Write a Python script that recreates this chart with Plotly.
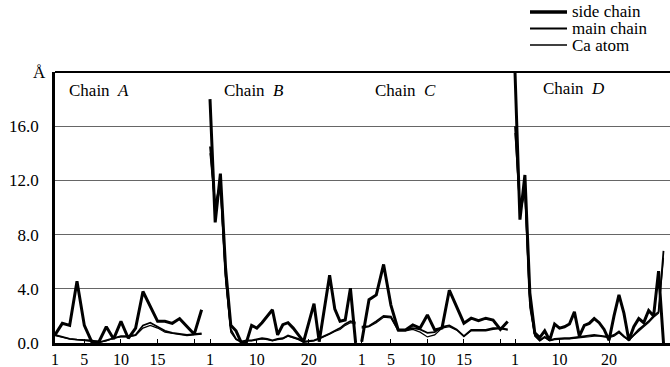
import plotly.graph_objects as go

# ---------------- data (Å deviations per residue) ----------------
chain_names = ["A", "B", "C", "D"]

side_A = [0.6, 1.45, 1.3, 4.55, 1.3, 0.1, 0.1, 1.2, 0.3, 1.6, 0.35, 1.1, 3.8, 2.7, 1.6, 1.6, 1.45, 1.8, 1.2, 0.65, 2.45]
main_A = [0.6, 0.45, 0.3, 0.25, 0.25, 0.2, 0.05, 0.2, 0.4, 0.5, 0.5, 0.6, 1.3, 1.5, 1.2, 0.9, 0.75, 0.65, 0.6, 0.65, 0.7]
ca_A   = [0.55, 0.4, 0.3, 0.25, 0.2, 0.15, 0.05, 0.15, 0.35, 0.45, 0.45, 0.55, 1.1, 1.3, 1.1, 0.8, 0.7, 0.6, 0.55, 0.6, 0.65]

side_B = [18.0, 8.9, 12.5, 5.5, 1.3, 0.9, 0.05, 0.05, 1.3, 1.1, 1.5, 2.0, 2.45, 0.6, 1.35, 1.5, 1.1, 0.6, 0.1,
          1.5, 2.9, 0.1, 2.5, 5.0, 2.5, 1.6, 1.7, 4.05, 0.0]
main_B = [14.5, 10.2, 11.8, 5.0, 1.0, 0.3, 0.1, 0.2, 0.2, 0.25, 0.35, 0.3, 0.2, 0.3, 0.35, 0.55, 0.45, 0.3, 0.1,
          0.15, 0.2, 0.35, 0.5, 0.7, 0.9, 1.1, 1.4, 1.6, 1.5]
ca_B   = [14.0, 9.8, 11.4, 4.6, 0.8, 0.25, 0.05, 0.15, 0.15, 0.2, 0.3, 0.25, 0.15, 0.25, 0.3, 0.5, 0.4, 0.25, 0.05,
          0.1, 0.15, 0.3, 0.45, 0.65, 0.85, 1.0, 1.3, 1.5, 1.4]

side_C = [0.1, 3.2, 3.55, 5.8, 2.8, 0.96, 0.96, 1.33, 1.1, 2.07, 0.96, 1.1, 3.9, 2.7, 1.46, 1.83, 1.65, 1.83, 1.7, 1.0, 1.58]
main_C = [1.2, 1.25, 1.6, 2.0, 1.95, 0.96, 0.96, 1.1, 1.0, 0.75, 0.8, 1.2, 1.3, 1.0, 0.5, 0.96, 0.96, 0.96, 1.1, 1.1, 1.0]
ca_C   = [1.1, 1.2, 1.5, 1.9, 1.85, 0.9, 0.9, 1.0, 0.8, 0.45, 0.6, 1.1, 1.2, 0.95, 0.5, 0.9, 0.9, 0.9, 1.0, 1.05, 0.95]

side_D = [20.0, 9.1, 12.4, 3.7, 0.74, 0.4, 0.9, 0.2, 1.4, 1.1, 1.2, 1.4, 2.3, 0.5, 1.3, 1.45, 1.8, 1.5, 1.0, 0.2,
          2.0, 3.55, 2.2, 0.2, 1.2, 1.8, 1.5, 2.4, 2.0, 5.3, 0.0]
main_D = [16.0, 10.0, 11.5, 3.0, 0.6, 0.2, 0.45, 0.2, 0.3, 0.35, 0.35, 0.35, 0.4, 0.4, 0.45, 0.5, 0.6, 0.55, 0.5, 0.45,
          0.6, 0.85, 0.5, 0.2, 0.6, 1.0, 1.3, 1.6, 2.0, 2.3, 6.8]
ca_D   = [15.5, 9.6, 11.0, 2.6, 0.5, 0.15, 0.4, 0.15, 0.25, 0.3, 0.3, 0.3, 0.35, 0.35, 0.4, 0.45, 0.5, 0.5, 0.45, 0.4,
          0.5, 0.75, 0.45, 0.2, 0.55, 0.9, 1.2, 1.5, 1.9, 2.2, 6.3]

series_names = ["side chain", "main chain", "Ca atom"]

tickvals_A = [1, 5, 10, 15, 20]; ticktext_A = ["1", "5", "10", "15", ""]
tickvals_B = [1, 10, 20];        ticktext_B = ["1", "10", "20"]
tickvals_C = [1, 5, 10, 15, 20]; ticktext_C = ["1", "5", "10", "15", ""]
tickvals_D = [1, 10, 20];        ticktext_D = ["1", "10", "20"]

y_tickvals = [0, 4, 8, 12, 16]
y_ticktext = ["0.0", "4.0", "8.0", "12.0", "16.0"]

# ---------------- styling / layout ----------------
W, H = 670, 367
ML, MR, MT, MB = 55, 0, 72, 24
PW, PH = W - ML - MR, H - MT - MB
FONT = "Times New Roman, Liberation Serif, DejaVu Serif, serif"

def px_x(p):  # pixel -> paper x
    return (p - ML) / PW

def px_y(p):  # pixel -> paper y
    return (H - MB - p) / PH

widths = [3.0, 1.8, 1.2]
data = {
    "A": (side_A, main_A, ca_A),
    "B": (side_B, main_B, ca_B),
    "C": (side_C, main_C, ca_C),
    "D": (side_D, main_D, ca_D),
}
domains_px = {"A": (55, 206), "B": (206, 359), "C": (359, 512), "D": (512, 670)}
ranges = {"A": [1, 21.6], "B": [0.231, 29.65], "C": [0.63, 21.59], "D": [0.394, 32.31]}
ticks = {"A": (tickvals_A, ticktext_A), "B": (tickvals_B, ticktext_B),
         "C": (tickvals_C, ticktext_C), "D": (tickvals_D, ticktext_D)}

fig = go.Figure()
for i, ch in enumerate(chain_names):
    xa = "x" if i == 0 else f"x{i+1}"
    for s, vals in enumerate(data[ch]):
        fig.add_trace(go.Scatter(
            x=list(range(1, len(vals) + 1)), y=vals, mode="lines",
            name=series_names[s], showlegend=False, hoverinfo="skip",
            line=dict(color="black", width=widths[s]),
            xaxis=xa, yaxis="y"))

layout = dict(
    width=W, height=H,
    margin=dict(l=ML, r=MR, t=MT, b=MB, pad=0),
    paper_bgcolor="white", plot_bgcolor="white",
    font=dict(family=FONT, size=16, color="black"),
    showlegend=False,
    yaxis=dict(range=[0, 20], tickvals=y_tickvals, ticktext=y_ticktext,
               showgrid=True, gridcolor="#666666", gridwidth=1,
               zeroline=False, showline=True, linecolor="black", linewidth=2.5,
               ticks="", ticklabelstandoff=10, anchor="x",
               tickfont=dict(family=FONT, size=17, color="black")),
)
for i, ch in enumerate(chain_names):
    key = "xaxis" if i == 0 else f"xaxis{i+1}"
    d0, d1 = domains_px[ch]
    tv, tt = ticks[ch]
    layout[key] = dict(
        domain=[px_x(d0), min(1.0, px_x(d1))], range=ranges[ch],
        tickvals=tv, ticktext=tt, ticks="inside", ticklen=4, tickwidth=1,
        tickcolor="black", showgrid=False, zeroline=False,
        showline=True, linecolor="black", linewidth=2.5,
        anchor="y", ticklabelstandoff=0,
        tickfont=dict(family=FONT, size=16, color="black"))
fig.update_layout(**layout)

# top frame
fig.add_shape(type="line", xref="paper", yref="paper", x0=0, x1=1, y0=1, y1=1,
              line=dict(color="black", width=2))

# chain labels
label_px = {"A": (67, 90), "B": (222, 90), "C": (373, 90), "D": (541, 88)}
for ch in chain_names:
    lx, ly = label_px[ch]
    fig.add_annotation(x=px_x(lx), y=px_y(ly), xref="paper", yref="paper",
                       text=f"Chain\u00a0 <i>{ch}</i>", showarrow=False,
                       xanchor="left", yanchor="middle",
                       font=dict(family=FONT, size=17, color="black"))

# Å unit label
fig.add_annotation(x=px_x(39), y=px_y(72), xref="paper", yref="paper", text="Å",
                   showarrow=False, xanchor="center", yanchor="middle",
                   font=dict(family=FONT, size=17, color="black"))

# legend (manual)
leg_y = [12, 28.5, 45]
for s, name in enumerate(series_names):
    fig.add_shape(type="line", xref="paper", yref="paper",
                  x0=px_x(530), x1=px_x(567), y0=px_y(leg_y[s]), y1=px_y(leg_y[s]),
                  line=dict(color="black", width=widths[s] + 0.3))
    fig.add_annotation(x=px_x(570), y=px_y(leg_y[s]), xref="paper", yref="paper",
                       text=name, showarrow=False, xanchor="left", yanchor="middle",
                       font=dict(family=FONT, size=17, color="black"))

fig.write_html("out.html", config={"displayModeBar": False},
               post_script="document.body.style.margin='0';document.body.style.overflow='hidden';")
